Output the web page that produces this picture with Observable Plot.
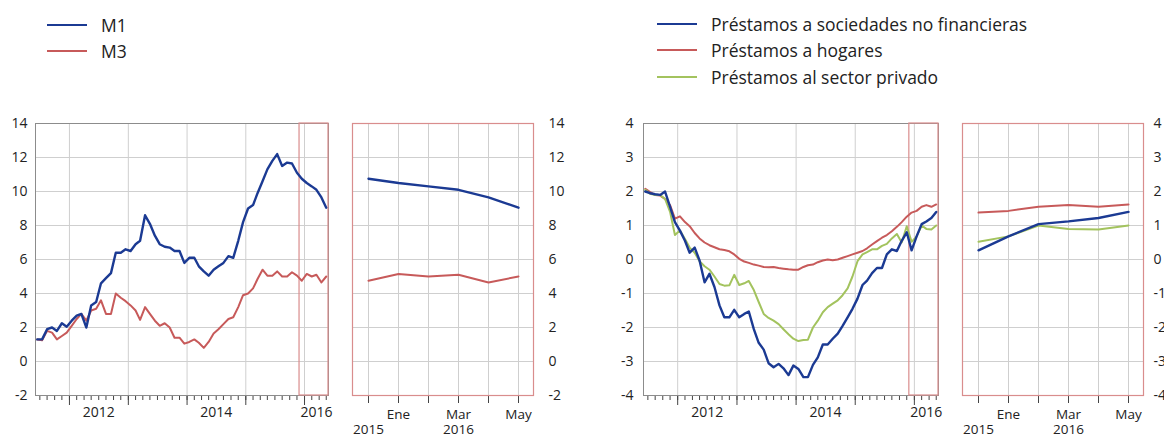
<!DOCTYPE html>
<html><head><meta charset="utf-8">
<script src="https://cdn.jsdelivr.net/npm/d3@7"></script>
<script src="https://cdn.jsdelivr.net/npm/@observablehq/plot@0.6"></script>
<style>
html,body{margin:0;padding:0;width:1164px;height:436px;overflow:hidden;background:#fff;font-family:"Open Sans",sans-serif;}
#wrap{position:relative;width:1164px;height:436px;overflow:hidden;}
.panel{position:absolute;top:0;}
.leg{position:absolute;font-size:17.5px;color:#222;display:flex;align-items:center;height:22px;white-space:nowrap;}
.leg .sw{display:inline-block;width:40px;height:0;border-top:2.5px solid;margin-right:14px;}
</style></head><body><div id="wrap"></div>
<script>
// ---- categories ----
const seriesStart = "2011-06-01", seriesEnd = "2016-06-01";
const dates = d3.utcMonth.range(new Date(seriesStart), new Date(seriesEnd)).map(d => d3.utcDay.offset(d, 14));
const zoomMonths = ["2015-12", "2016-01", "2016-02", "2016-03", "2016-04", "2016-05"];
const zoomLabels1 = ["", "Ene", "", "Mar", "", "May"];
const zoomLabels2 = ["2015", "", "", "2016", "", ""];
const yearLabels = ["2012", "2014", "2016"];
const yearLabelDates = ["2012-07-01", "2014-07-01", "2016-03-15"];
const yTicksMoney = [-2, 0, 2, 4, 6, 8, 10, 12, 14];
const yTicksLoans = [-4, -3, -2, -1, 0, 1, 2, 3, 4];

// ---- series values (% interanual), Jun 2011 - May 2016 ----
const m1 = [1.3, 1.3, 1.9, 2.0, 1.8, 2.25, 2.05,
  2.4, 2.7, 2.8, 2.0, 3.3, 3.5, 4.6, 4.9, 5.2, 6.4, 6.4, 6.6,
  6.5, 6.9, 7.1, 8.6, 8.1, 7.4, 6.9, 6.75, 6.7, 6.5, 6.5, 5.8,
  6.1, 6.1, 5.6, 5.3, 5.05, 5.4, 5.6, 5.8, 6.2, 6.1, 7.1, 8.2,
  9.0, 9.2, 9.9, 10.6, 11.3, 11.8, 12.2, 11.5, 11.7, 11.65, 11.1, 10.75,
  10.5, 10.3, 10.1, 9.65, 9.05];
const m3 = [1.3, 1.25, 1.8, 1.7, 1.3, 1.5, 1.7,
  2.1, 2.5, 2.8, 2.4, 3.0, 3.1, 3.6, 2.8, 2.8, 4.0, 3.75, 3.55,
  3.3, 3.0, 2.45, 3.2, 2.8, 2.4, 2.1, 2.25, 2.0, 1.4, 1.4, 1.05,
  1.15, 1.3, 1.1, 0.8, 1.15, 1.65, 1.9, 2.2, 2.5, 2.6, 3.2, 3.9,
  4.0, 4.3, 4.85, 5.4, 5.05, 5.05, 5.3, 5.0, 5.0, 5.25, 5.05, 4.75,
  5.15, 5.0, 5.1, 4.65, 5.0];
const loansNFC = [2.0, 1.95, 1.92, 1.9, 2.0, 1.55, 1.1,
  0.85, 0.55, 0.2, 0.35, -0.03, -0.67, -0.42, -0.81, -1.35, -1.7, -1.7, -1.48,
  -1.7, -1.6, -1.53, -2.05, -2.45, -2.65, -3.05, -3.17, -3.07, -3.2, -3.4, -3.12,
  -3.22, -3.46, -3.46, -3.1, -2.88, -2.5, -2.5, -2.33, -2.18, -1.95, -1.7, -1.45,
  -1.15, -0.75, -0.62, -0.4, -0.25, -0.25, 0.15, 0.3, 0.25, 0.55, 0.8, 0.27,
  0.68, 1.04, 1.12, 1.22, 1.4];
const loansHH = [2.08, 1.98, 1.9, 1.88, 1.78, 1.6, 1.2,
  1.27, 1.1, 0.98, 0.78, 0.62, 0.5, 0.42, 0.36, 0.3, 0.28, 0.24, 0.15,
  0.02, -0.06, -0.1, -0.15, -0.18, -0.22, -0.23, -0.22, -0.25, -0.27, -0.29, -0.3,
  -0.3, -0.22, -0.17, -0.15, -0.08, -0.03, 0.0, -0.02, 0.0, 0.05, 0.1, 0.15,
  0.2, 0.25, 0.33, 0.44, 0.54, 0.64, 0.72, 0.83, 0.96, 1.1, 1.26, 1.38,
  1.43, 1.55, 1.6, 1.55, 1.62];
const loansPriv = [2.05, 1.93, 1.9, 1.9, 1.78, 1.4, 0.72,
  0.85, 0.6, 0.35, 0.2, -0.05, -0.2, -0.3, -0.5, -0.72, -0.77, -0.76, -0.45,
  -0.75, -0.7, -0.63, -0.9, -1.25, -1.6, -1.72, -1.8, -1.9, -2.05, -2.2, -2.33,
  -2.4, -2.37, -2.36, -2.0, -1.8, -1.55, -1.4, -1.3, -1.2, -1.05, -0.85, -0.5,
  -0.05, 0.15, 0.22, 0.3, 0.3, 0.4, 0.46, 0.62, 0.75, 0.5, 0.98, 0.52,
  0.68, 1.0, 0.9, 0.88, 1.0];

// ---- styling ----
const BLUE = "#1b3a93", RED = "#c75a5a", GREEN = "#a3c35e", HL = "#d98d8d", GRID = "#cfcfcf";
const xDomain = [new Date("2011-06-04"), new Date("2016-05-29")];
const yearStarts = d3.utcYear.range(new Date("2012-01-01"), new Date("2016-02-01"));
const minorTicks = d3.utcYear.range(new Date("2011-01-01"), new Date("2017-01-01"))
  .flatMap(y => [0, 1, 3, 4, 6, 7, 9, 10].map((m, i) => d3.utcDay.offset(d3.utcMonth.offset(y, m), i % 2 ? 14 : 0)))
  .filter(d => d >= xDomain[0] && d <= xDomain[1]);
const fmt = d => String(d);
const wrap = document.getElementById("wrap");

function place(svg, left) {
  svg.classList.add("panel");
  svg.style.left = left + "px";
  wrap.appendChild(svg);
}

function mainPanel({left, width, ml, mr, yDomain, yTicks, series, pad}) {
  const marks = [
    Plot.gridY(yTicks, {stroke: GRID, strokeOpacity: 1}),
    Plot.gridX(yearStarts, {stroke: GRID, strokeOpacity: 1}),
    Plot.axisY(yTicks, {anchor: "left", tickSize: 0, tickPadding: pad, tickFormat: fmt, fontSize: 14}),
    Plot.axisX(minorTicks, {anchor: "bottom", tickSize: 5, tickFormat: () => "", stroke: "#444"}),
    Plot.axisX(yearStarts, {anchor: "bottom", tickSize: 10, tickFormat: () => "", stroke: "#444"}),
    Plot.axisX(yearLabelDates.map(d => new Date(d)), {anchor: "bottom", tickSize: 0, tickPadding: 12,
      tickFormat: d => yearLabels[yearLabelDates.indexOf(d3.utcFormat("%Y-%m-%d")(d))], fontSize: 14}),
    Plot.frame({stroke: "#8c8c8c"}),
    Plot.rect([0], {x1: () => new Date(zoomMonths[0] + "-01"), x2: () => xDomain[1],
      y1: () => yDomain[0], y2: () => yDomain[1], fill: "none", stroke: HL, strokeWidth: 1.2})
  ];
  for (const s of series) {
    marks.push(Plot.line(dates.map((d, i) => ({d, v: s.values[i]})), {x: "d", y: "v", stroke: s.color, strokeWidth: s.w}));
  }
  const svg = Plot.plot({
    width, height: 436, marginTop: 123, marginBottom: 41, marginLeft: ml, marginRight: mr,
    style: {fontFamily: "'Open Sans', sans-serif", color: "#222", background: "transparent", overflow: "visible"},
    x: {type: "utc", domain: xDomain, label: null},
    y: {domain: yDomain, label: null},
    marks
  });
  place(svg, left);
}

function zoomPanel({left, width, ml, mr, yDomain, yTicks, series, pad}) {
  const marks = [
    Plot.gridY(yTicks, {stroke: GRID, strokeOpacity: 1}),
    Plot.gridX(zoomMonths, {stroke: GRID, strokeOpacity: 1}),
    Plot.axisY(yTicks, {anchor: "right", tickSize: 0, tickPadding: pad, textAnchor: "start", tickFormat: fmt, fontSize: 14}),
    Plot.axisX(zoomMonths, {anchor: "bottom", tickSize: 8, tickPadding: 4, stroke: "#444",
      tickFormat: d => { const i = zoomMonths.indexOf(d); return zoomLabels1[i] + "\n" + zoomLabels2[i]; },
      fontSize: 13.5, lineHeight: 1.15}),
    Plot.frame({stroke: HL, strokeWidth: 1.2})
  ];
  for (const s of series) {
    const vals = s.values.slice(-zoomMonths.length);
    marks.push(Plot.line(zoomMonths.map((m, i) => ({m, v: vals[i]})), {x: "m", y: "v", stroke: s.color, strokeWidth: s.w}));
  }
  const svg = Plot.plot({
    width, height: 436, marginTop: 123, marginBottom: 41, marginLeft: ml, marginRight: mr,
    style: {fontFamily: "'Open Sans', sans-serif", color: "#222", background: "transparent", overflow: "visible"},
    x: {type: "point", domain: zoomMonths, padding: 0.5, label: null},
    y: {domain: yDomain, label: null},
    marks
  });
  place(svg, left);
}

const moneySeries = [{values: m3, color: RED, w: 2}, {values: m1, color: BLUE, w: 2.4}];
const loanSeries = [{values: loansHH, color: RED, w: 2}, {values: loansPriv, color: GREEN, w: 2}, {values: loansNFC, color: BLUE, w: 2.4}];

mainPanel({left: 0, width: 340, ml: 35, mr: 12, yDomain: [-2, 14], yTicks: yTicksMoney, series: moneySeries, pad: 8});
zoomPanel({left: 340, width: 240, ml: 12, mr: 47, yDomain: [-2, 14], yTicks: yTicksMoney, series: moneySeries, pad: 15});
mainPanel({left: 580, width: 370, ml: 63, mr: 12, yDomain: [-4, 4], yTicks: yTicksLoans, series: loanSeries, pad: 10});
zoomPanel({left: 950, width: 214, ml: 12, mr: 21, yDomain: [-4, 4], yTicks: yTicksLoans, series: loanSeries, pad: 10});

// ---- legends ----
const legends = [
  {x: 47, y: 25, label: "M1", color: BLUE},
  {x: 47, y: 51, label: "M3", color: RED},
  {x: 657, y: 24, label: "Préstamos a sociedades no financieras", color: BLUE},
  {x: 657, y: 50, label: "Préstamos a hogares", color: RED},
  {x: 657, y: 77, label: "Préstamos al sector privado", color: GREEN}
];
for (const l of legends) {
  const div = document.createElement("div");
  div.className = "leg";
  div.style.left = l.x + "px";
  div.style.top = (l.y - 11) + "px";
  div.innerHTML = `<span class="sw" style="border-color:${l.color}"></span><span>${l.label}</span>`;
  wrap.appendChild(div);
}
</script></body></html>
